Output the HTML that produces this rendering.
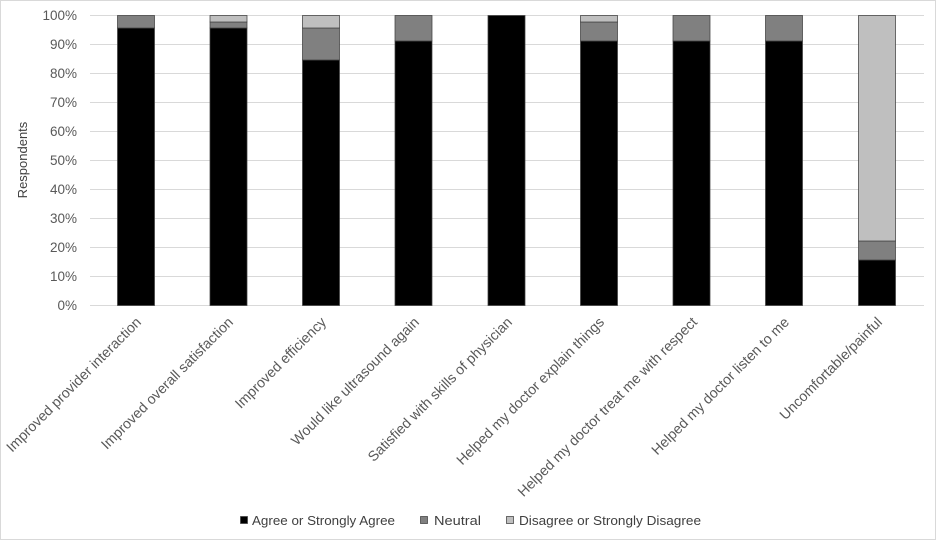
<!DOCTYPE html>
<html><head><meta charset="utf-8"><style>
html,body{margin:0;padding:0;background:#fff}
svg{display:block;font-family:"Liberation Sans",sans-serif}
</style></head><body>
<svg width="936" height="540" viewBox="0 0 936 540">
<rect x="0.5" y="0.5" width="935" height="539" fill="#fff" stroke="#d9d9d9"/>
<g stroke="#d9d9d9" stroke-width="1">
<line x1="90" x2="924" y1="15.5" y2="15.5"/><line x1="90" x2="924" y1="44.5" y2="44.5"/>
<line x1="90" x2="924" y1="73.5" y2="73.5"/><line x1="90" x2="924" y1="102.5" y2="102.5"/>
<line x1="90" x2="924" y1="131.5" y2="131.5"/><line x1="90" x2="924" y1="160.5" y2="160.5"/>
<line x1="90" x2="924" y1="189.5" y2="189.5"/><line x1="90" x2="924" y1="218.5" y2="218.5"/>
<line x1="90" x2="924" y1="247.5" y2="247.5"/><line x1="90" x2="924" y1="276.5" y2="276.5"/>
<line x1="90" x2="924" y1="305.5" y2="305.5"/>
</g>
<g font-size="13.5" fill="#595959" text-anchor="end">
<text x="77" y="20">100%</text><text x="77" y="49">90%</text><text x="77" y="78">80%</text>
<text x="77" y="107">70%</text><text x="77" y="136">60%</text><text x="77" y="165">50%</text>
<text x="77" y="194">40%</text><text x="77" y="223">30%</text><text x="77" y="252">20%</text>
<text x="77" y="281">10%</text><text x="77" y="310">0%</text>
</g>
<text transform="translate(27,160) rotate(-90)" font-size="13" fill="#404040" text-anchor="middle">Respondents</text>
<g stroke="#404040" stroke-width="0.75">
<rect x="117.5" y="28" width="37" height="277.5" fill="#000"/>
<rect x="117.5" y="15.5" width="37" height="12.5" fill="#808080"/>
<rect x="210" y="28" width="37" height="277.5" fill="#000"/>
<rect x="210" y="22" width="37" height="6" fill="#808080"/>
<rect x="210" y="15.5" width="37" height="6.5" fill="#bfbfbf"/>
<rect x="302.5" y="60" width="37" height="245.5" fill="#000"/>
<rect x="302.5" y="28" width="37" height="32" fill="#808080"/>
<rect x="302.5" y="15.5" width="37" height="12.5" fill="#bfbfbf"/>
<rect x="395" y="41" width="37" height="264.5" fill="#000"/>
<rect x="395" y="15.5" width="37" height="25.5" fill="#808080"/>
<rect x="488" y="15.5" width="37" height="290" fill="#000"/>
<rect x="580.5" y="41" width="37" height="264.5" fill="#000"/>
<rect x="580.5" y="22" width="37" height="19" fill="#808080"/>
<rect x="580.5" y="15.5" width="37" height="6.5" fill="#bfbfbf"/>
<rect x="673" y="41" width="37" height="264.5" fill="#000"/>
<rect x="673" y="15.5" width="37" height="25.5" fill="#808080"/>
<rect x="765.5" y="41" width="37" height="264.5" fill="#000"/>
<rect x="765.5" y="15.5" width="37" height="25.5" fill="#808080"/>
<rect x="858.5" y="260" width="37" height="45.5" fill="#000"/>
<rect x="858.5" y="241" width="37" height="19" fill="#808080"/>
<rect x="858.5" y="15.5" width="37" height="225.5" fill="#bfbfbf"/>
</g>
<g font-size="14.2" fill="#595959" text-anchor="end">
<text transform="translate(142,323) rotate(-45)">Improved provider interaction</text>
<text transform="translate(234,323) rotate(-45)">Improved overall satisfaction</text>
<text transform="translate(327,323) rotate(-45)">Improved efficiency</text>
<text transform="translate(420,323) rotate(-45)">Would like ultrasound again</text>
<text transform="translate(513,323) rotate(-45)">Satisfied with skills of physician</text>
<text transform="translate(605,323) rotate(-45)">Helped my doctor explain things</text>
<text transform="translate(698,323) rotate(-45)">Helped my doctor treat me with respect</text>
<text transform="translate(790,323) rotate(-45)">Helped my doctor listen to me</text>
<text transform="translate(883,323) rotate(-45)">Uncomfortable/painful</text>
</g>
<g font-size="13" fill="#404040">
<rect x="240.5" y="516.5" width="7" height="7" fill="#000" stroke="#404040" stroke-width="0.75"/>
<text x="252" y="525" textLength="143" lengthAdjust="spacingAndGlyphs">Agree or Strongly Agree</text>
<rect x="420.5" y="516.5" width="7" height="7" fill="#808080" stroke="#404040" stroke-width="0.75"/>
<text x="434" y="525" textLength="47" lengthAdjust="spacingAndGlyphs">Neutral</text>
<rect x="506.5" y="516.5" width="7" height="7" fill="#bfbfbf" stroke="#404040" stroke-width="0.75"/>
<text x="519" y="525" textLength="182" lengthAdjust="spacingAndGlyphs">Disagree or Strongly Disagree</text>
</g>
</svg>
</body></html>
